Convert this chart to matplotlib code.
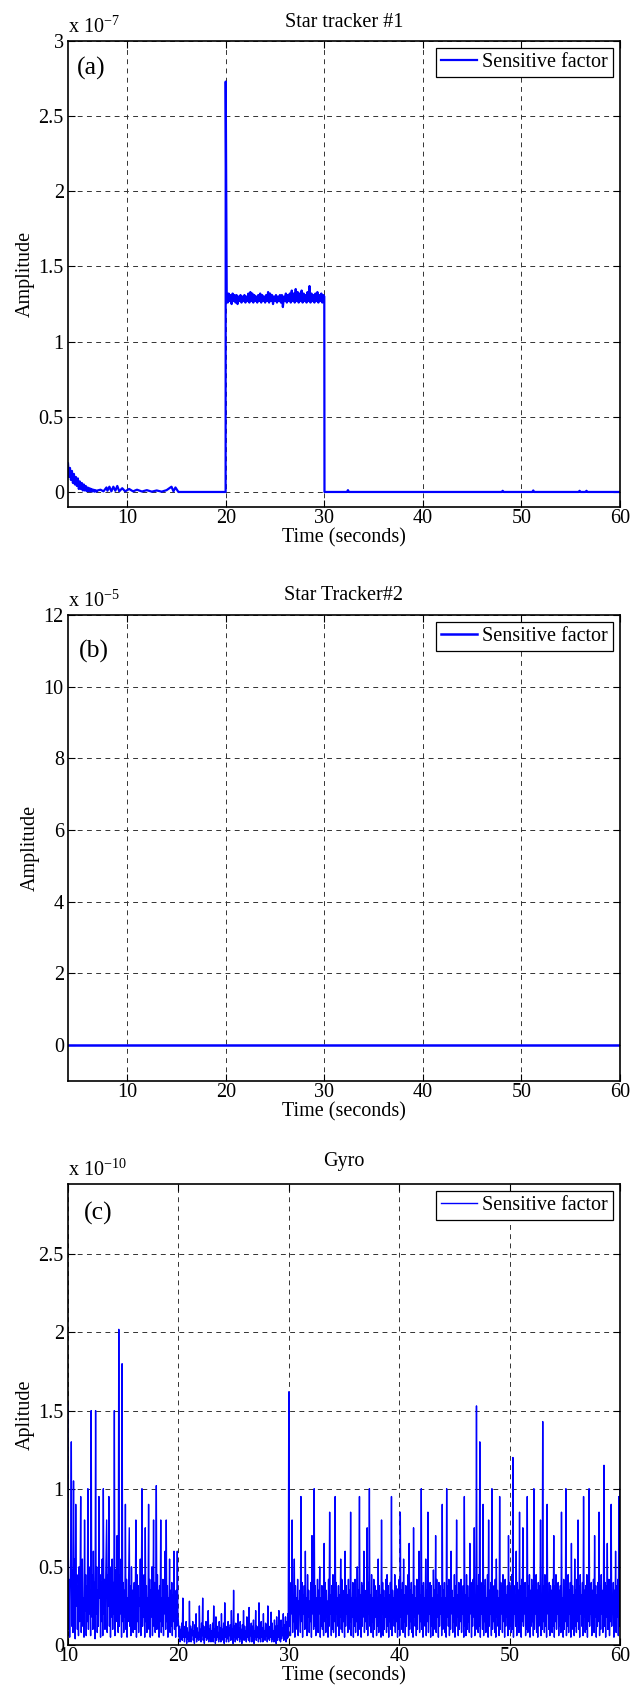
import numpy as np
import matplotlib
matplotlib.use('Agg')
import matplotlib.pyplot as plt
from matplotlib.ticker import MultipleLocator, FuncFormatter

plt.rcParams['font.family'] = ['Liberation Serif', 'DejaVu Serif']
plt.rcParams['mathtext.fontset'] = 'custom'
plt.rcParams['mathtext.rm'] = 'Liberation Serif'
plt.rcParams['mathtext.it'] = 'Liberation Serif:italic'
plt.rcParams['axes.unicode_minus'] = False

# ---------------- data ----------------
titles = ['Star tracker #1', 'Star Tracker#2', 'Gyro']
ylabels = ['Amplitude', 'Amplitude', 'Aplitude']
tags = ['(a)', '(b)', '(c)']
legend_label = 'Sensitive factor'
xlabel = 'Time (seconds)'

# Panel (a): values in units of 1e-7
a_scale = 1e-7
a_head_t0, a_head_step = 4.0, 0.1
a_head = [0.19, 0.10, 0.16, 0.08, 0.14, 0.06, 0.12, 0.05, 0.10, 0.04,
          0.09, 0.02, 0.07, 0.02, 0.06, 0.01, 0.05, 0.01, 0.04, 0.005,
          0.03, 0.005, 0.025, 0.003, 0.02, 0.003, 0.015, 0.002, 0.012, 0.002,
          0.01]
a_mid_t = [7.3, 7.6, 7.9, 8.0, 8.2, 8.4, 8.6, 8.8, 9.0, 9.2, 9.5, 9.8, 10.2,
           10.6, 11.0, 11.5, 12.0, 12.5, 13.0, 13.5, 14.0, 14.5, 14.7, 14.9,
           15.2, 19.99]
a_mid = [0.015, 0.004, 0.03, 0.008, 0.035, 0.004, 0.035, 0.008, 0.04, 0.004,
         0.025, 0.004, 0.02, 0.004, 0.015, 0.003, 0.012, 0.002, 0.01, 0.002,
         0.012, 0.035, 0.004, 0.03, 0.0, 0.0]
a_plat_t0, a_plat_step = 20.0, 0.1
a_plat = [2.73,
          1.33, 1.26, 1.32, 1.27, 1.31, 1.25, 1.32, 1.27, 1.31, 1.26,
          1.31, 1.25, 1.30, 1.27, 1.31, 1.26, 1.30, 1.27, 1.31, 1.26,
          1.30, 1.27, 1.32, 1.26, 1.33, 1.27, 1.32, 1.26, 1.31, 1.27,
          1.30, 1.26, 1.31, 1.27, 1.32, 1.26, 1.31, 1.27, 1.30, 1.26,
          1.31, 1.27, 1.33, 1.26, 1.32, 1.27, 1.31, 1.25, 1.30, 1.27,
          1.31, 1.26, 1.30, 1.27, 1.31, 1.26, 1.31, 1.23, 1.30, 1.27,
          1.32, 1.26, 1.31, 1.27, 1.32, 1.26, 1.34, 1.27, 1.32, 1.26,
          1.35, 1.27, 1.33, 1.26, 1.32, 1.27, 1.34, 1.26, 1.32, 1.27,
          1.31, 1.26, 1.33, 1.27, 1.37, 1.26, 1.32, 1.27, 1.31, 1.26,
          1.32, 1.27, 1.33, 1.26, 1.31, 1.27, 1.32, 1.26, 1.31, 1.30]
a_tail_t = [30.02, 32.3, 32.4, 32.5, 48.0, 48.1, 48.2, 51.1, 51.2, 51.3,
            55.8, 55.9, 56.0, 56.5, 56.6, 56.7, 60.0]
a_tail = [0.0, 0.0, 0.012, 0.0, 0.0, 0.008, 0.0, 0.0, 0.01, 0.0,
          0.0, 0.008, 0.0, 0.0, 0.008, 0.0, 0.0]

# Panel (b): values in units of 1e-5
b_scale = 1e-5
b_t = [4, 10, 20, 30, 40, 50, 60]
b_vals = [0.0, 0.0, 0.0, 0.0, 0.0, 0.0, 0.0]

# Panel (c): values in units of 1e-10, sampled every 0.05 s from 10 s
c_scale = 1e-10
c_t0, c_step = 10.0, 0.05
c_vals = [
    # 10.0 - 15.0
    1.55, 0.10, 0.42, 0.05, 0.30, 0.60, 1.30, 0.12, 0.48, 0.08,
    1.05, 0.20, 0.55, 0.04, 0.90, 0.25, 0.45, 0.10, 0.38, 0.06,
    0.50, 0.15, 0.40, 0.95, 0.08, 0.35, 0.55, 0.12, 0.30, 0.05,
    0.80, 0.22, 0.45, 0.06, 0.38, 0.15, 1.00, 0.10, 0.50, 0.20,
    0.35, 0.06, 1.50, 0.18, 0.45, 0.10, 0.60, 0.25, 0.40, 0.04,
    1.50, 0.20, 0.50, 0.08, 0.35, 0.12, 0.95, 0.30, 0.45, 0.05,
    0.40, 0.15, 0.55, 0.06, 1.00, 0.20, 0.42, 0.10, 0.35, 0.60,
    0.80, 0.08, 0.45, 0.25, 0.95, 0.12, 0.50, 0.05, 0.38, 0.18,
    0.55, 0.10, 0.40, 0.20, 1.50, 0.06, 0.48, 0.15, 0.35, 0.70,
    0.25, 0.08, 2.02, 0.12, 0.45, 0.20, 0.55, 0.05, 1.80, 0.15,
    # 15.0 - 20.0
    0.40, 0.08, 0.35, 0.18, 0.90, 0.10, 0.42, 0.05, 0.30, 0.15,
    0.45, 0.75, 0.12, 0.38, 0.06, 0.50, 0.20, 0.35, 0.08, 0.28,
    0.40, 0.10, 0.32, 0.80, 0.05, 0.45, 0.15, 0.38, 0.08, 0.30,
    0.25, 0.55, 0.06, 0.40, 1.00, 0.12, 0.35, 0.18, 0.45, 0.05,
    0.75, 0.15, 0.38, 0.08, 0.30, 0.20, 0.90, 0.10, 0.42, 0.05,
    0.35, 0.18, 0.50, 0.06, 0.28, 0.80, 0.12, 0.40, 0.08, 0.32,
    1.02, 0.10, 0.45, 0.20, 0.35, 0.05, 0.38, 0.15, 0.80, 0.08,
    0.30, 0.12, 0.42, 0.06, 0.35, 0.20, 0.60, 0.10, 0.80, 0.15,
    0.38, 0.05, 0.30, 0.18, 0.55, 0.08, 0.35, 0.12, 0.40, 0.06,
    0.32, 0.15, 0.60, 0.10, 0.28, 0.05, 0.35, 0.12, 0.60, 0.20,
    # 20.0 - 25.0
    0.15, 0.05, 0.12, 0.02, 0.10, 0.04, 0.14, 0.03, 0.30, 0.05,
    0.12, 0.02, 0.09, 0.05, 0.15, 0.01, 0.11, 0.04, 0.08, 0.02,
    0.28, 0.04, 0.12, 0.02, 0.10, 0.06, 0.15, 0.03, 0.09, 0.01,
    0.13, 0.05, 0.20, 0.02, 0.11, 0.04, 0.08, 0.03, 0.25, 0.05,
    0.10, 0.02, 0.14, 0.06, 0.30, 0.03, 0.12, 0.01, 0.09, 0.05,
    0.15, 0.03, 0.11, 0.04, 0.22, 0.02, 0.10, 0.06, 0.13, 0.02,
    0.09, 0.04, 0.14, 0.02, 0.25, 0.05, 0.10, 0.01, 0.18, 0.03,
    0.12, 0.05, 0.08, 0.02, 0.15, 0.04, 0.11, 0.02, 0.20, 0.06,
    0.10, 0.03, 0.14, 0.01, 0.27, 0.05, 0.12, 0.02, 0.09, 0.04,
    0.15, 0.02, 0.11, 0.06, 0.13, 0.03, 0.22, 0.04, 0.10, 0.01,
    # 25.0 - 30.0
    0.35, 0.05, 0.12, 0.02, 0.14, 0.04, 0.09, 0.03, 0.20, 0.05,
    0.11, 0.02, 0.15, 0.04, 0.10, 0.01, 0.13, 0.05, 0.22, 0.03,
    0.12, 0.04, 0.09, 0.02, 0.18, 0.05, 0.11, 0.03, 0.24, 0.02,
    0.10, 0.06, 0.14, 0.02, 0.12, 0.04, 0.16, 0.01, 0.09, 0.05,
    0.22, 0.03, 0.12, 0.05, 0.10, 0.02, 0.27, 0.04, 0.13, 0.02,
    0.15, 0.05, 0.11, 0.02, 0.20, 0.04, 0.09, 0.03, 0.14, 0.06,
    0.13, 0.02, 0.25, 0.04, 0.10, 0.03, 0.12, 0.05, 0.21, 0.02,
    0.14, 0.04, 0.09, 0.02, 0.16, 0.05, 0.12, 0.01, 0.18, 0.03,
    0.12, 0.05, 0.22, 0.03, 0.10, 0.02, 0.16, 0.04, 0.11, 0.06,
    0.20, 0.03, 0.13, 0.05, 0.18, 0.02, 0.15, 0.04, 0.20, 0.05,
    # 30.0 - 35.0
    1.62, 0.12, 0.40, 0.06, 0.35, 0.20, 0.80, 0.08, 0.30, 0.15,
    0.55, 0.05, 0.38, 0.18, 0.30, 0.10, 0.42, 0.06, 0.28, 0.20,
    0.35, 0.08, 0.95, 0.15, 0.40, 0.05, 0.32, 0.20, 0.38, 0.10,
    0.60, 0.12, 0.30, 0.06, 0.45, 0.18, 0.35, 0.08, 0.28, 0.15,
    0.40, 0.05, 0.70, 0.20, 0.32, 0.10, 1.00, 0.12, 0.38, 0.06,
    0.30, 0.15, 0.42, 0.08, 0.35, 0.20, 0.50, 0.05, 0.30, 0.12,
    0.38, 0.10, 0.30, 0.06, 0.65, 0.15, 0.40, 0.08, 0.35, 0.18,
    0.28, 0.05, 0.42, 0.12, 0.85, 0.20, 0.32, 0.06, 0.38, 0.10,
    0.45, 0.08, 0.35, 0.15, 0.95, 0.05, 0.40, 0.20, 0.30, 0.12,
    0.38, 0.06, 0.32, 0.18, 0.55, 0.10, 0.42, 0.08, 0.35, 0.15,
    # 35.0 - 40.0
    0.30, 0.05, 0.60, 0.12, 0.38, 0.20, 0.32, 0.08, 0.42, 0.10,
    0.35, 0.15, 0.85, 0.06, 0.30, 0.18, 0.40, 0.05, 0.38, 0.12,
    0.42, 0.08, 0.30, 0.15, 0.50, 0.06, 0.35, 0.20, 0.95, 0.10,
    0.32, 0.05, 0.40, 0.12, 0.38, 0.18, 0.60, 0.08, 0.30, 0.15,
    0.35, 0.10, 0.75, 0.06, 0.40, 0.20, 1.00, 0.12, 0.32, 0.08,
    0.45, 0.15, 0.30, 0.05, 0.42, 0.10, 0.38, 0.18, 0.35, 0.06,
    0.30, 0.12, 0.55, 0.08, 0.38, 0.15, 0.32, 0.05, 0.80, 0.20,
    0.40, 0.06, 0.35, 0.10, 0.30, 0.18, 0.42, 0.08, 0.45, 0.12,
    0.38, 0.05, 0.32, 0.15, 0.40, 0.10, 0.95, 0.06, 0.35, 0.20,
    0.30, 0.12, 0.45, 0.08, 0.38, 0.15, 0.32, 0.05, 0.36, 0.10,
    # 40.0 - 45.0
    0.42, 0.06, 0.85, 0.18, 0.35, 0.10, 0.40, 0.08, 0.55, 0.15,
    0.32, 0.05, 0.38, 0.12, 0.30, 0.20, 0.45, 0.06, 0.65, 0.10,
    0.35, 0.15, 0.40, 0.08, 0.32, 0.05, 0.75, 0.18, 0.38, 0.12,
    0.30, 0.06, 0.42, 0.10, 0.35, 0.20, 0.60, 0.08, 0.32, 0.15,
    1.00, 0.10, 0.38, 0.05, 0.40, 0.18, 0.30, 0.12, 0.55, 0.06,
    0.35, 0.15, 0.85, 0.08, 0.32, 0.20, 0.40, 0.05, 0.38, 0.12,
    0.30, 0.06, 0.48, 0.15, 0.35, 0.10, 0.70, 0.08, 0.42, 0.18,
    0.32, 0.05, 0.40, 0.12, 0.38, 0.20, 0.30, 0.06, 0.90, 0.10,
    0.35, 0.15, 0.40, 0.08, 0.30, 0.05, 1.00, 0.18, 0.38, 0.12,
    0.42, 0.06, 0.32, 0.10, 0.60, 0.20, 0.35, 0.08, 0.30, 0.15,
    # 45.0 - 50.0
    0.45, 0.05, 0.38, 0.12, 0.80, 0.18, 0.32, 0.06, 0.40, 0.10,
    0.35, 0.15, 0.42, 0.08, 0.30, 0.20, 0.38, 0.05, 0.95, 0.12,
    0.32, 0.06, 0.45, 0.10, 0.38, 0.15, 0.30, 0.08, 0.65, 0.20,
    0.40, 0.05, 0.35, 0.12, 0.42, 0.18, 0.75, 0.06, 0.32, 0.10,
    1.53, 0.15, 0.38, 0.08, 0.45, 0.12, 1.30, 0.05, 0.40, 0.20,
    0.35, 0.10, 0.90, 0.06, 0.38, 0.15, 0.42, 0.08, 0.30, 0.18,
    0.45, 0.05, 0.80, 0.12, 0.35, 0.20, 0.40, 0.06, 1.00, 0.10,
    0.32, 0.15, 0.38, 0.08, 0.42, 0.05, 0.55, 0.18, 0.35, 0.12,
    0.30, 0.06, 0.95, 0.10, 0.40, 0.20, 0.38, 0.08, 0.45, 0.15,
    0.35, 0.05, 0.42, 0.12, 0.32, 0.18, 0.38, 0.06, 0.70, 0.10,
    # 50.0 - 55.0
    0.40, 0.15, 0.35, 0.08, 0.45, 0.10, 1.20, 0.05, 0.38, 0.20,
    0.32, 0.12, 0.60, 0.06, 0.40, 0.18, 0.35, 0.08, 0.85, 0.10,
    0.38, 0.05, 0.42, 0.15, 0.75, 0.12, 0.35, 0.20, 0.40, 0.06,
    0.30, 0.10, 0.95, 0.08, 0.38, 0.18, 0.45, 0.05, 0.35, 0.12,
    0.42, 0.15, 0.38, 0.06, 1.00, 0.10, 0.32, 0.20, 0.45, 0.08,
    0.35, 0.05, 0.40, 0.12, 0.38, 0.18, 0.80, 0.06, 0.32, 0.10,
    1.43, 0.15, 0.38, 0.08, 0.45, 0.12, 0.35, 0.05, 0.90, 0.20,
    0.32, 0.10, 0.40, 0.06, 0.38, 0.18, 0.35, 0.08, 0.42, 0.12,
    0.70, 0.05, 0.38, 0.15, 0.45, 0.10, 0.32, 0.20, 0.40, 0.06,
    0.35, 0.12, 0.38, 0.08, 0.85, 0.18, 0.30, 0.05, 0.42, 0.10,
    # 55.0 - 60.0
    0.32, 0.15, 1.00, 0.06, 0.38, 0.12, 0.45, 0.08, 0.35, 0.20,
    0.40, 0.05, 0.65, 0.10, 0.38, 0.18, 0.32, 0.06, 0.55, 0.12,
    0.35, 0.08, 0.42, 0.15, 0.80, 0.10, 0.38, 0.05, 0.45, 0.20,
    0.32, 0.12, 0.40, 0.06, 0.95, 0.18, 0.35, 0.08, 0.38, 0.10,
    0.45, 0.05, 0.38, 0.15, 1.00, 0.12, 0.32, 0.20, 0.40, 0.06,
    0.35, 0.10, 0.42, 0.08, 0.70, 0.18, 0.38, 0.05, 0.32, 0.12,
    0.40, 0.15, 0.85, 0.06, 0.38, 0.10, 0.45, 0.20, 0.35, 0.08,
    0.32, 1.15, 0.12, 0.40, 0.05, 0.38, 0.18, 0.65, 0.10, 0.35,
    0.42, 0.06, 0.38, 0.15, 0.90, 0.12, 0.32, 0.20, 0.40, 0.05,
    0.35, 0.10, 0.60, 0.08, 0.38, 0.18, 0.42, 0.06, 0.95, 0.12,
    # 60.0
    1.00]

# ---------------- assemble series ----------------
a_head_time = a_head_t0 + a_head_step * np.arange(len(a_head))
a_plat_time = a_plat_t0 + a_plat_step * np.arange(len(a_plat))
a_time = np.concatenate([a_head_time, a_mid_t, a_plat_time, a_tail_t])
a_y = np.concatenate([a_head, a_mid, a_plat, a_tail]) * a_scale

b_time = np.array(b_t, dtype=float)
b_y = np.array(b_vals) * b_scale

c_time = c_t0 + c_step * np.arange(len(c_vals))
c_y = np.array(c_vals) * c_scale

# ---------------- figure ----------------
W, H = 633, 1703
fig = plt.figure(figsize=(W / 100, H / 100), dpi=100)


def rect(l, t, r, b):
    return [l / W, 1 - b / H, (r - l) / W, (b - t) / H]


FS = 14.5
BLUE = '#0000ff'

panels = [
    dict(rect=rect(68, 41, 620, 507), t=a_time, y=a_y, xlim=(4, 60),
         ylim=(-0.1 * a_scale, 3 * a_scale), ystep=0.5 * a_scale,
         scale=a_scale, exp='-7', tpad=10, tag_xy=(0.016, 0.942), lw=1.6,
         xstep=10),
    dict(rect=rect(68, 615, 620, 1081), t=b_time, y=b_y, xlim=(4, 60),
         ylim=(-1 * b_scale, 12 * b_scale), ystep=2 * b_scale,
         scale=b_scale, exp='-5', tpad=11, tag_xy=(0.02, 0.921), lw=1.8,
         xstep=10),
    dict(rect=rect(68, 1184, 620, 1645), t=c_time, y=c_y, xlim=(10, 60),
         ylim=(0, 2.95 * c_scale), ystep=0.5 * c_scale,
         scale=c_scale, exp='-10', tpad=13, tag_xy=(0.028, 0.937), lw=1.0,
         xstep=10),
]

for i, p in enumerate(panels):
    ax = fig.add_axes(p['rect'])
    ax.plot(p['t'], p['y'], color=BLUE, lw=p['lw'], label=legend_label)
    ax.set_xlim(*p['xlim'])
    ax.set_ylim(*p['ylim'])
    ax.xaxis.set_major_locator(MultipleLocator(p['xstep']))
    ax.yaxis.set_major_locator(MultipleLocator(p['ystep']))
    sc = p['scale']
    ax.yaxis.set_major_formatter(FuncFormatter(lambda v, pos, sc=sc: f'{round(v / sc, 6):g}'))
    ax.grid(True, linestyle=(0, (5, 4.5)), color='#333333', linewidth=0.7)
    ax.tick_params(direction='in', length=5, width=0.8, top=True, right=True,
                   labelsize=FS, colors='black')
    ax.tick_params(axis='x', pad=1.5)
    ax.tick_params(axis='y', pad=3)
    for s in ax.spines.values():
        s.set_linewidth(1.2)
        s.set_color('black')
    ax.set_title(titles[i], fontsize=FS, pad=p['tpad'])
    ax.set_xlabel(xlabel, fontsize=FS, labelpad=0)
    ax.set_ylabel(ylabels[i], fontsize=FS, labelpad=2.5)
    ax.text(0.0, 1.017, r'x 10$^{\mathregular{' + p['exp'] + '}}$',
            transform=ax.transAxes, ha='left', va='baseline', fontsize=FS)
    ax.text(p['tag_xy'][0], p['tag_xy'][1], tags[i], transform=ax.transAxes,
            ha='left', va='center', fontsize=18.5)
    leg = ax.legend(loc='upper right', bbox_to_anchor=(0.987, 0.985),
                    borderaxespad=0, fontsize=FS, handlelength=1.8,
                    handletextpad=0.25, borderpad=0.25, fancybox=False,
                    framealpha=1, edgecolor='black')
    leg.get_frame().set_linewidth(0.9)

fig.savefig('out.png', dpi=100)
